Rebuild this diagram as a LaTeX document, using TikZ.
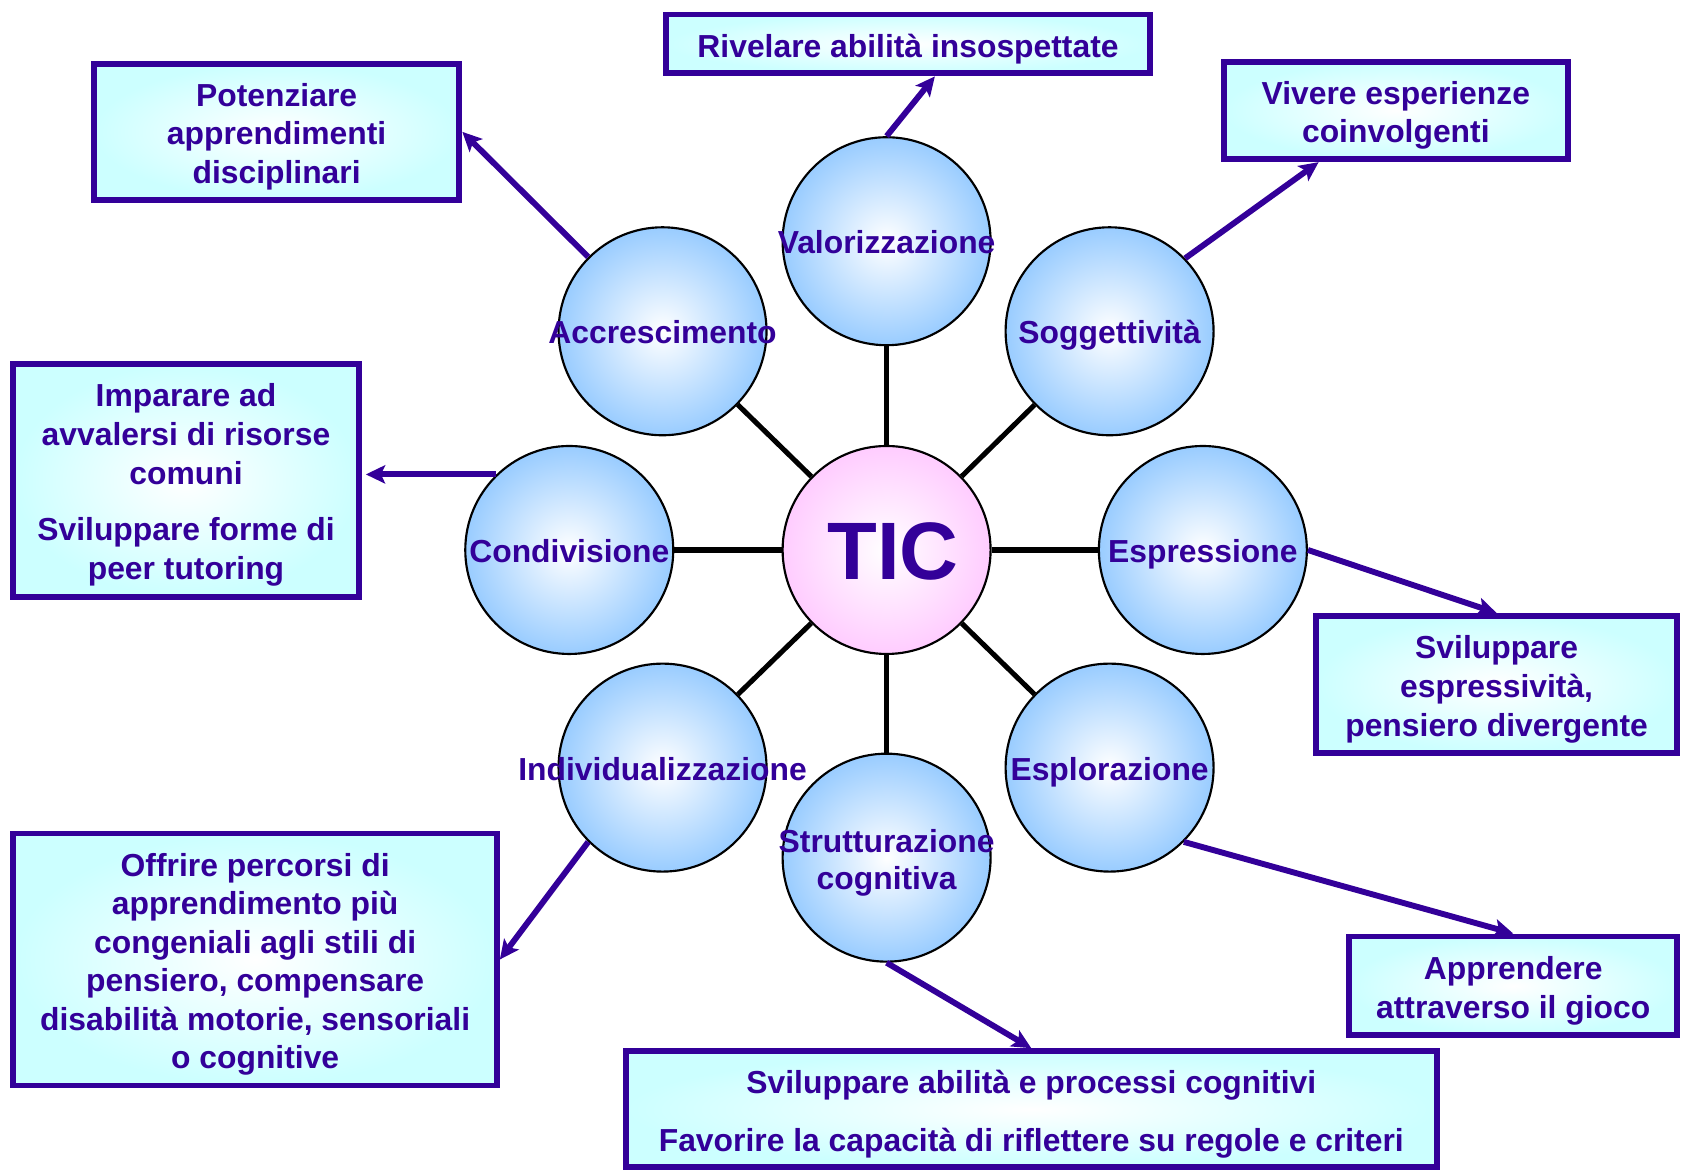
\documentclass[tikz,border=0pt]{standalone}
\usepackage{fontspec}
\setmainfont{Liberation Sans}
\usetikzlibrary{arrows.meta,shadings}
\definecolor{ind}{HTML}{330099}
\definecolor{cblue}{HTML}{99CCFF}
\definecolor{cpink}{HTML}{FFCCFF}
\definecolor{ccyan}{HTML}{CCFFFF}
\tikzset{
 bub/.style={circle, draw=black, line width=2pt, minimum size=194pt, inner sep=0pt, inner color=white, outer color=cblue},
 hub/.style={bub, outer color=cpink},
 ctext/.style={text=ind, font=\fontsize{29.7}{35}\selectfont\bfseries, align=center, inner sep=0pt},
 goal/.style={rectangle, draw=ind, line width=5.5pt, inner color=white, outer color=ccyan, inner sep=0pt},
 gtext/.style={text=ind, font=\fontsize{29.7}{36}\selectfont\bfseries, align=center, inner sep=0pt, yshift=-4.5pt},
 spoke/.style={draw=black, line width=4.7pt},
 link/.style={draw=ind, line width=5.5pt, -{Stealth[length=18pt,width=17pt,inset=4pt]}},
}
\begin{document}
\begin{tikzpicture}[x=1pt,y=-1pt]
\useasboundingbox (0,0) rectangle (1568,1093);
% circles
\node[hub] (tic) at (827,513) {};
\node[bub] (val) at (827,225) {};
\node[bub] (sog) at (1035,309) {};
\node[bub] (esp) at (1122,513) {};
\node[bub] (espl) at (1035,716) {};
\node[bub] (str) at (827,800) {};
\node[bub] (ind) at (618,716) {};
\node[bub] (cond) at (531,513) {};
\node[bub] (acc) at (618,309) {};
% spokes
\foreach \c in {val,sog,esp,espl,str,ind,cond,acc}
  \draw[spoke] (tic) -- (\c);
% circle labels
\node[text=ind, font=\fontsize{76}{80}\selectfont\bfseries, inner sep=0pt] (tict) at (833,514) {TIC};
\node[ctext] (valt) at (827,226) {Valorizzazione};
\node[ctext] (sogt) at (1035,313) {Soggettività};
\node[ctext] (espt) at (1122,517) {Espressione};
\node[ctext] (esplt) at (1035,720) {Esplorazione};
\node[ctext] (strt) at (827,805) {Strutturazione\\cognitiva};
\node[ctext] (indt) at (618,717) {Individualizzazione};
\node[ctext] (condt) at (531,514) {Condivisione};
\node[ctext] (acct) at (618,310) {Accrescimento};
% goal boxes
\node[goal, minimum width=341pt, minimum height=127pt,
  label={[gtext]center:{Potenziare\\apprendimenti\\disciplinari}}] (box1) at (258,123) {};
\node[goal, minimum width=451pt, minimum height=55pt,
  label={[gtext]center:{Rivelare abilità insospettate}}] (box2) at (847,41) {};
\node[goal, minimum width=321pt, minimum height=91pt,
  label={[gtext]center:{Vivere esperienze\\coinvolgenti}}] (box3) at (1302,103) {};
\node[goal, minimum width=322pt, minimum height=217pt,
  label={[gtext]center:{Imparare ad\\avvalersi di risorse\\comuni\\[17pt]Sviluppare forme di\\peer tutoring}}] (box4) at (173.5,448) {};
\node[goal, minimum width=337pt, minimum height=128pt,
  label={[gtext]center:{Sviluppare\\espressività,\\pensiero divergente}}] (box5) at (1396,638.5) {};
\node[goal, minimum width=451pt, minimum height=235pt,
  label={[gtext]center:{Offrire percorsi di\\apprendimento più\\congeniali agli stili di\\pensiero, compensare\\disabilità motorie, sensoriali\\o cognitive}}] (box6) at (238,895) {};
\node[goal, minimum width=306pt, minimum height=92pt,
  label={[gtext]center:{Apprendere\\attraverso il gioco}}] (box7) at (1411.5,919.5) {};
\node[goal, minimum width=757pt, minimum height=108pt,
  label={[gtext]center:{Sviluppare abilità e processi cognitivi\\[18pt]Favorire la capacità di riflettere su regole e criteri}}] (box8) at (962,1034.5) {};
% arrows
\draw[link] (acc.135) -- (box1.east);
\draw[link] (val.north) -- ([xshift=25pt]box2.south);
\draw[link] (sog.44) -- ([xshift=-72pt]box3.south);
\draw[link, shorten >=4pt] (cond.134) -- (box4.east |- cond.134);
\draw[link] (esp.east) -- (box5.north);
\draw[link] (espl.-45) -- (box7.north);
\draw[link] (str.south) -- (box8.north);
\draw[link] (ind.225) -- (box6.east);
\end{tikzpicture}
\end{document}
